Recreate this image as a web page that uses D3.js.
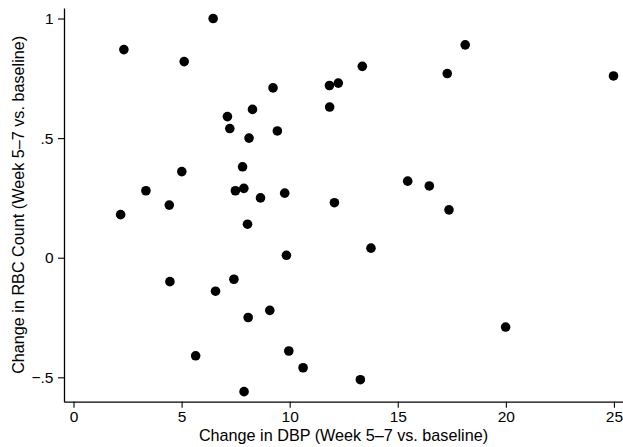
<!DOCTYPE html>
<html>
<head>
<meta charset="utf-8">
<script src="https://cdn.jsdelivr.net/npm/d3@7"></script>
<style>
  html, body { margin: 0; padding: 0; background: #fff; }
  svg { display: block; font-family: "Liberation Sans", Arial, Helvetica, sans-serif; }
</style>
</head>
<body>
<div id="chart"></div>
<script>
// change in DBP (x) and change in RBC count (y), one entry per subject
const dbpChange = [
  2.33, 6.46, 5.12, 9.23, 7.12, 8.28, 7.23, 8.12, 9.43, 5.01,
  7.82, 3.35, 7.49, 7.88, 4.43, 8.65, 9.77, 2.18, 11.84, 12.25,
  11.85, 13.36, 17.29, 18.12, 24.98, 15.46, 16.46, 12.07, 17.37, 8.05,
  9.85, 4.46, 7.42, 6.57, 9.08, 8.08, 5.65, 9.96, 10.62, 7.89,
  13.76, 19.99, 13.27
];
const rbcChange = [
  0.87, 1.00, 0.82, 0.71, 0.59, 0.62, 0.54, 0.50, 0.53, 0.36,
  0.38, 0.28, 0.28, 0.29, 0.22, 0.25, 0.27, 0.18, 0.72, 0.73,
  0.63, 0.80, 0.77, 0.89, 0.76, 0.32, 0.30, 0.23, 0.20, 0.14,
  0.01, -0.10, -0.09, -0.14, -0.22, -0.25, -0.41, -0.39, -0.46, -0.56,
  0.04, -0.29, -0.51
];
const xTicks = [0, 5, 10, 15, 20, 25];
const yTicks = [-0.5, 0, 0.5, 1];
const yTickLabels = ["\u2212.5", "0", ".5", "1"];
const xTitle = "Change in DBP (Week 5\u20137 vs. baseline)";
const yTitle = "Change in RBC Count (Week 5\u20137 vs. baseline)";

const W = 623, H = 447;
const m = { t: 8, r: 0, b: 45.3, l: 64 };

const svg = d3.select("#chart").append("svg")
  .attr("width", W).attr("height", H);

const x = d3.scaleLinear().domain([-0.44, 25.42]).range([m.l, W - m.r]);
const y = d3.scaleLinear().domain([-0.602, 1.044]).range([H - m.b, m.t]);

// axes
const gx = svg.append("g")
  .attr("transform", `translate(0,${H - m.b})`)
  .call(d3.axisBottom(x).tickValues(xTicks).tickSize(6).tickSizeOuter(0).tickPadding(3.5));
const gy = svg.append("g")
  .attr("transform", `translate(${m.l},0)`)
  .call(d3.axisLeft(y).tickValues(yTicks).tickSize(6).tickSizeOuter(0).tickPadding(4.5)
    .tickFormat((d, i) => yTickLabels[i]));

[gx, gy].forEach(g => {
  g.select(".domain").attr("stroke", "#000").attr("stroke-width", 1.3);
  g.selectAll(".tick line").attr("stroke", "#000").attr("stroke-width", 1.1);
  g.selectAll(".tick text")
    .attr("fill", "#000")
    .style("font-family", "'Liberation Sans', Arial, sans-serif")
    .style("font-size", "15.5px");
});

// points
svg.append("g").selectAll("circle")
  .data(dbpChange.map((d, i) => [d, rbcChange[i]]))
  .join("circle")
  .attr("cx", d => x(d[0]))
  .attr("cy", d => y(d[1]))
  .attr("r", 4.8)
  .attr("fill", "#000");

// axis titles
svg.append("text")
  .attr("x", (m.l + W - m.r) / 2)
  .attr("y", 440.5)
  .attr("text-anchor", "middle")
  .style("font-size", "16.2px")
  .attr("fill", "#000")
  .text(xTitle);

svg.append("text")
  .attr("transform", `translate(24,${(m.t + H - m.b) / 2}) rotate(-90)`)
  .attr("text-anchor", "middle")
  .style("font-size", "16.2px")
  .attr("fill", "#000")
  .text(yTitle);
</script>
</body>
</html>
